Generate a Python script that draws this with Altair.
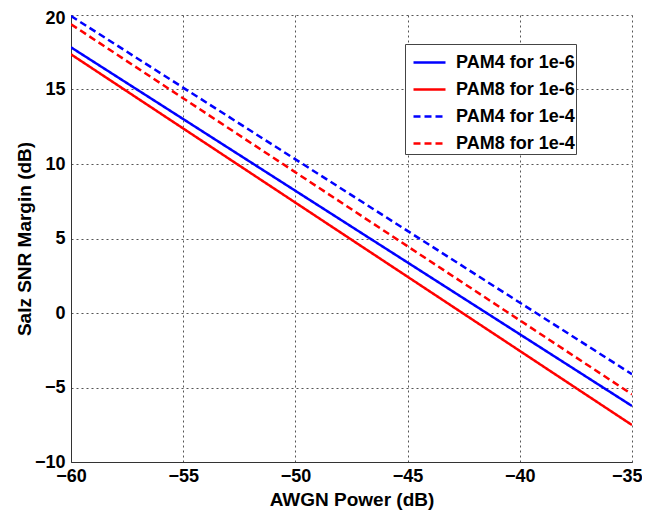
import altair as alt
import pandas as pd

awgn_power = [-60, -35]
pam4_1e6 = [17.83, -6.24]
pam8_1e6 = [17.36, -7.52]
pam4_1e4 = [19.93, -4.11]
pam8_1e4 = [19.38, -5.46]

series_names = ["PAM4 for 1e-6", "PAM8 for 1e-6", "PAM4 for 1e-4", "PAM8 for 1e-4"]
series_vals = [pam4_1e6, pam8_1e6, pam4_1e4, pam8_1e4]
series_colors = ["#0000ff", "#ff0000", "#0000ff", "#ff0000"]
series_dash = [[1, 0], [1, 0], [7, 4], [7, 4]]

rows = []
for name, vals in zip(series_names, series_vals):
    for x, y in zip(awgn_power, vals):
        rows.append({"power": x, "margin": y, "series": name})
df = pd.DataFrame(rows)

FONT = "Liberation Sans"

chart = (
    alt.Chart(df)
    .mark_line(strokeWidth=2.5, clip=True)
    .encode(
        x=alt.X(
            "power:Q",
            scale=alt.Scale(domain=[-60, -35], nice=False, zero=False),
            axis=alt.Axis(
                title="AWGN Power (dB)",
                values=[-60, -55, -50, -45, -40, -35],
                titleX=280.5,
                titleY=37,
                titleBaseline="middle",
                labelPadding=5,
                labelFlush=False,
                labelAlign=alt.condition(
                    "datum.value == -35", alt.value("right"), alt.value("center")
                ),
                labelOffset=alt.condition(
                    "datum.value == -35", alt.value(10), alt.value(0)
                ),
            ),
        ),
        y=alt.Y(
            "margin:Q",
            scale=alt.Scale(domain=[-10, 20], nice=False, zero=False),
            axis=alt.Axis(
                title="Salz SNR Margin (dB)",
                values=[-10, -5, 0, 5, 10, 15, 20],
                titleX=-47,
                titleY=223.5,
                titleBaseline="middle",
                titleAlign="center",
                labelPadding=6,
                labelFlush=False,
                labelBaseline=alt.condition(
                    "datum.value == 20", alt.value("top"), alt.value("middle")
                ),
                labelOffset=alt.condition(
                    "datum.value == 20", alt.value(-6), alt.value(0)
                ),
            ),
        ),
        color=alt.Color(
            "series:N",
            scale=alt.Scale(domain=series_names, range=series_colors),
            sort=series_names,
            legend=alt.Legend(title=None),
        ),
        strokeDash=alt.StrokeDash(
            "series:N",
            scale=alt.Scale(domain=series_names, range=series_dash),
            sort=series_names,
            legend=alt.Legend(title=None),
        ),
    )
    .properties(
        width=561,
        height=447,
        autosize=alt.AutoSizeParams(type="none"),
        padding={"left": 63, "top": 7, "right": 10, "bottom": 48},
    )
    .configure_view(stroke=None)
    .configure_axis(
        labelFont=FONT,
        titleFont=FONT,
        labelFontSize=18,
        titleFontSize=19,
        labelFontWeight="bold",
        titleFontWeight="bold",
        labelColor="#000000",
        titleColor="#000000",
        domainColor="#333333",
        domainWidth=1,
        ticks=False,
        grid=True,
        gridColor="#555555",
        gridDash=[2, 3],
        gridWidth=1,
        gridOpacity=1,
    )
    .configure_axisX(labelBaseline="top")
    .configure_legend(
        orient="none",
        legendX=334,
        legendY=29,
        labelFont=FONT,
        labelFontSize=18,
        labelFontWeight="bold",
        labelColor="#000000",
        strokeColor="#444444",
        fillColor="#ffffff",
        padding=1,
        symbolOffset=6,
        rowPadding=0,
        symbolType="stroke",
        symbolSize=1024,
        symbolStrokeWidth=2.5,
        labelOffset=9,
    )
)

chart.save("out.html", embed_options={"renderer": "svg", "actions": False})
